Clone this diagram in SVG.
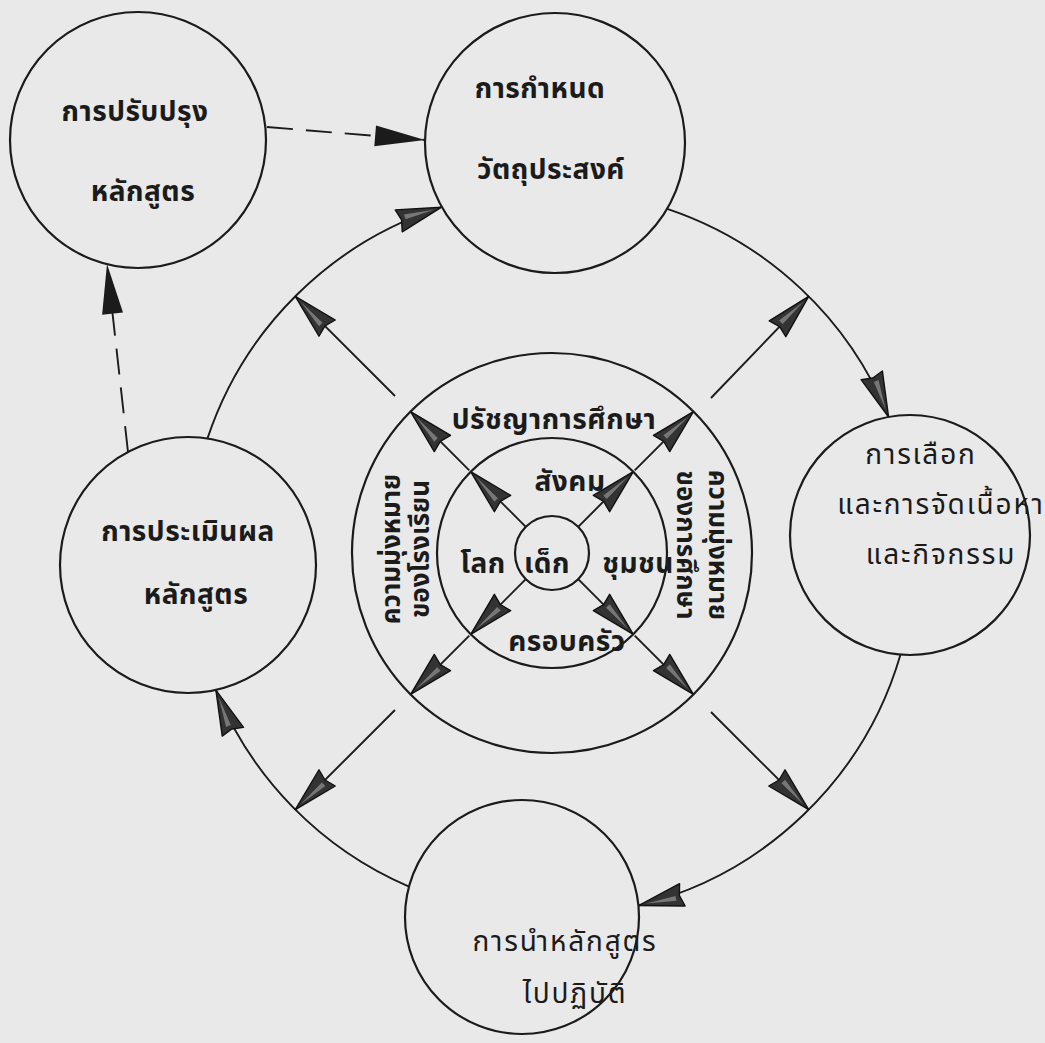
<svg xmlns="http://www.w3.org/2000/svg" width="1045" height="1043" viewBox="0 0 1045 1043">
  <style>
    .node { fill: none; stroke: #1b1b1b; stroke-width: 2.2; }
    .ln { fill: none; stroke: #1b1b1b; stroke-width: 1.9; }
    .cycle { marker-end: url(#dart); }
    .radial { marker-end: url(#dart); }
    .dash { stroke-dasharray: 26 13; marker-end: url(#solid); }
    .t { font-family: "Noto Sans Thai", "Noto Sans", "DejaVu Sans", sans-serif; font-size: 28px; fill: #1b1b1b; text-anchor: middle; }
    .bold { font-weight: bold; letter-spacing: 0.5px; }
    .wide { letter-spacing: 1.8px; }
    .side { font-size: 26px; font-weight: bold; }
  </style>
  <defs>
    <!-- shaded dart head used on the cycle and radial arrows -->
    <marker id="dart" markerUnits="userSpaceOnUse" markerWidth="50" markerHeight="30" viewBox="-48 -15 50 30" refX="0" refY="0" orient="auto" overflow="visible">
      <path d="M0,0 L-45,-11.5 L-42,0 L-45,11.5 Z" fill="#333" stroke="#111" stroke-width="1.4" stroke-linejoin="round"/>
      <path d="M-8,0 L-38,-4.5 L-38,0.5 Z" fill="#777"/>
    </marker>
    <!-- solid black head for the dashed feedback arrows -->
    <marker id="solid" markerUnits="userSpaceOnUse" markerWidth="54" markerHeight="26" viewBox="-52 -13 54 26" refX="0" refY="0" orient="auto" overflow="visible">
      <path d="M0,0 L-50,-10.5 L-50,10.5 Z" fill="#1b1b1b"/>
    </marker>
  </defs>

  <rect width="1045" height="1043" fill="#e9e9e9"/>

  <g id="connectors">
    <!-- main development cycle, clockwise around the core -->
    <path class="ln cycle" d="M667.2,208.8 A363,363 0 0 1 888.6,417"/>
    <path class="ln cycle" d="M900.6,654.3 A363,363 0 0 1 638.6,905.5"/>
    <path class="ln cycle" d="M409,886.6 A363,363 0 0 1 215.9,690.1"/>
    <path class="ln cycle" d="M207.5,438.4 A363,363 0 0 1 441.6,207.2"/>

    <!-- dashed feedback loop -->
    <path class="ln dash" d="M267,127 L425,140"/>
    <path class="ln dash" d="M128,452 L107,264"/>

    <!-- child to environment -->
    <path class="ln radial" d="M525.8,526.8 L470.7,471.7"/>
    <path class="ln radial" d="M578.2,526.8 L633.3,471.7"/>
    <path class="ln radial" d="M578.2,579.2 L633.3,634.3"/>
    <path class="ln radial" d="M525.8,579.2 L470.7,634.3"/>
    <!-- environment to aims ring -->
    <path class="ln radial" d="M469.3,470.3 L410.6,411.6"/>
    <path class="ln radial" d="M634.7,470.3 L693.4,411.6"/>
    <path class="ln radial" d="M634.7,635.7 L693.4,694.4"/>
    <path class="ln radial" d="M469.3,635.7 L410.6,694.4"/>
    <!-- aims ring to the cycle -->
    <path class="ln radial" d="M395,396 L295.3,296.3"/>
    <path class="ln radial" d="M711,398 L808.7,296.3"/>
    <path class="ln radial" d="M711,712 L808.7,809.7"/>
    <path class="ln radial" d="M395,710 L295.3,809.7"/>
  </g>

  <g id="node-improve">
    <circle class="node" cx="138" cy="140" r="128"/>
    <text class="t bold" x="135" y="121">การปรับปรุง</text>
    <text class="t bold" x="143" y="201">หลักสูตร</text>
  </g>

  <g id="node-objectives">
    <circle class="node" cx="555" cy="143" r="130"/>
    <text class="t bold" x="540" y="98">การกำหนด</text>
    <text class="t bold" x="551" y="179">วัตถุประสงค์</text>
  </g>

  <g id="node-content">
    <circle class="node" cx="910" cy="535" r="120"/>
    <text class="t wide" x="921" y="464">การเลือก</text>
    <text class="t wide" x="941" y="514">และการจัดเนื้อหา</text>
    <text class="t wide" x="941" y="564">และกิจกรรม</text>
  </g>

  <g id="node-implement">
    <circle class="node" cx="522" cy="917" r="117"/>
    <text class="t wide" x="565" y="951">การนำหลักสูตร</text>
    <text class="t wide" x="575" y="1003">ไปปฏิบัติ</text>
  </g>

  <g id="node-evaluate">
    <circle class="node" cx="188" cy="565" r="128"/>
    <text class="t bold" x="188" y="541">การประเมินผล</text>
    <text class="t bold" x="196" y="604">หลักสูตร</text>
  </g>

  <g id="core-aims">
    <circle class="node" cx="552" cy="553" r="200"/>
    <text class="t bold" x="554" y="429">ปรัชญาการศึกษา</text>
    <text class="t side" transform="translate(400,549) rotate(-90)">ความมุ่งหมาย</text>
    <text class="t side" transform="translate(429,549) rotate(-90)">ของโรงเรียน</text>
    <text class="t side" transform="translate(709,545) rotate(90)">ความมุ่งหมาย</text>
    <text class="t side" transform="translate(677,545) rotate(90)">ของการศึกษา</text>
  </g>

  <g id="core-environment">
    <circle class="node" cx="552" cy="553" r="115"/>
    <text class="t bold" x="570" y="491">สังคม</text>
    <text class="t bold" x="483" y="573">โลก</text>
    <text class="t bold" x="638" y="573">ชุมชน</text>
    <text class="t bold" x="567" y="651">ครอบครัว</text>
  </g>

  <g id="core-child">
    <circle class="node" cx="552" cy="553" r="37"/>
    <text class="t bold" x="547" y="573">เด็ก</text>
  </g>
</svg>
